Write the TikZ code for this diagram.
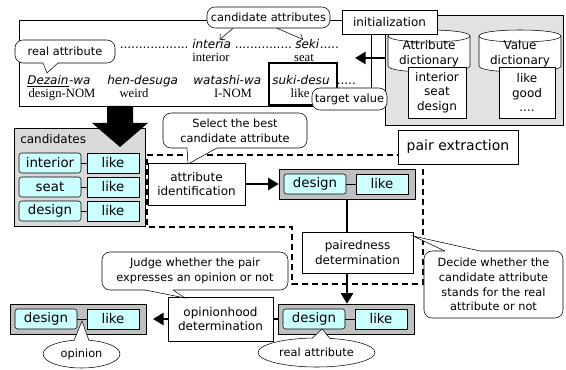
\documentclass[tikz,border=0pt]{standalone}
\usepackage{fontspec}
\setmainfont{DejaVu Sans}
\newfontfamily\glossfont{Liberation Serif}
\usetikzlibrary{arrows.meta,shapes.geometric}
\definecolor{lightcyan}{RGB}{204,255,255}
\definecolor{boxgray}{RGB}{192,192,192}
\definecolor{panelgray}{RGB}{217,217,217}
\definecolor{dictgray}{RGB}{226,226,226}

\begin{document}
\begin{tikzpicture}[x=0.75pt,y=-0.75pt,
	every node/.style={font=\fontsize{9}{11}\selectfont},
	box/.style={draw, fill=white, align=center, inner sep=1pt},
	note/.style={draw, fill=white, rounded corners=6pt, align=center, inner sep=1pt, font=\fontsize{8.5}{11}\selectfont},
	attr/.style={draw, fill=lightcyan, rounded corners=2pt, minimum width=46.5pt, minimum height=15pt, inner sep=0pt, font=\fontsize{10}{12}\selectfont},
	val/.style={draw, fill=lightcyan, minimum width=39pt, minimum height=15pt, inner sep=0pt, font=\fontsize{10}{12}\selectfont},
	pairbox/.style={draw, fill=boxgray, minimum width=102pt, minimum height=22.5pt, inner sep=0pt},
	bigarrow/.style={line width=2pt, -{Triangle[length=8pt,width=9pt]}},
	word/.style={anchor=base west, inner sep=0pt, font=\fontsize{9}{11}\selectfont\itshape},
	gloss/.style={anchor=base, inner sep=0pt, font=\fontsize{9.5}{11}\glossfont},
	]
	\useasboundingbox (0,0) rectangle (566,370);

	% sentence frame
	\node[draw, minimum width=264pt, minimum height=64.5pt, inner sep=0pt] (sentence) at (195,63) {};

	% dictionaries
	\node[draw, fill=dictgray, minimum width=133.5pt, minimum height=82.5pt, inner sep=0pt] (dicts) at (474,70) {};
	\draw[fill=white] (388,36) -- (388,66) .. controls (388,74) and (470,74) .. (470,66) -- (470,36) .. controls (470,28) and (388,28) .. cycle;
	\draw (388,36) .. controls (388,44) and (470,44) .. (470,36);
	\node[align=center] (attrdict) at (429,54) {Attribute\\dictionary};
	\draw[fill=white] (479,36) -- (479,66) .. controls (479,74) and (561,74) .. (561,66) -- (561,36) .. controls (561,28) and (479,28) .. cycle;
	\draw (479,36) .. controls (479,44) and (561,44) .. (561,36);
	\node[align=center] (valdict) at (520,54) {Value\\dictionary};
	\node[box, minimum width=43.5pt, minimum height=38.25pt] (attrlist) at (437,92.5) {interior\\seat\\design};
	\node[box, minimum width=42pt, minimum height=38.25pt] (vallist) at (527,92.5) {like\\good\\....};
	\coordinate (lookup) at (355,58);
	\draw[bigarrow] (dicts.west |- lookup) -- (lookup);

	% target value
	\draw[line width=1.6pt] (269,63) rectangle (337,105);

	% sentence
	\node[word] (dots1) at (120,49) {..................};
	\node[word] (interia) at (192,49) {interia};
	\node[word] (dots2) at (235,49) {...............};
	\node[word] (seki) at (295,49) {seki};
	\node[word] (dots3) at (320,49) {.....};
	\node[gloss] (ginteria) at (211,62) {interior};
	\node[gloss] (gseki) at (304,62) {seat};
	\node[word] (dezain) at (27,85) {Dezain};
	\node[word] (wa) at (dezain.base east) {-wa};
	\draw ([yshift=-1.2pt]dezain.base west) -- ([yshift=-1.2pt]dezain.base east);
	\node[word] (hen) at (107,85) {hen-desuga};
	\node[word] (watashi) at (193,85) {watashi-wa};
	\node[word] (suki) at (272,85) {suki-desu};
	\node[word] (dots4) at (337,85) {.....};
	\node[gloss] (gdezain) at (62,98) {design-NOM};
	\node[gloss] (ghen) at (134,98) {weird};
	\node[gloss] (gwatashi) at (233,98) {I-NOM};
	\node[gloss] (gsuki) at (300,98) {like};

	% labels on the sentence
	\node[note, minimum width=92.25pt, minimum height=15.75pt] (candattr) at (268.5,17.5) {candidate attributes};
	\draw[-{Straight Barb[length=3pt]}] ([xshift=-26.6pt]candattr.south) -- ([xshift=6pt]interia.north);
	\draw[-{Straight Barb[length=3pt]}] ([xshift=6.4pt]candattr.south) -- ([xshift=-3pt]seki.north);
	\node[box, minimum width=71.25pt, minimum height=18pt] (init) at (389.5,22) {initialization};
	\node[note, minimum width=56.25pt, minimum height=16.5pt] (target) at (349.5,99) {target value};
	\node[note, minimum width=75pt, minimum height=17.25pt] (realtop) at (65,51.5) {real attribute};
	\fill[white] (43,61) -- (43,63.5) -- (47,73) -- (58,63.5) -- (58,61) -- cycle;
	\draw (43,63) -- (47,73) -- (58,63);

	% candidates
	\node[draw, fill=panelgray, minimum width=98.25pt, minimum height=73.5pt, inner sep=0pt] (cands) at (79.5,177) {};
	\node[anchor=west, inner sep=0pt] (candtitle) at (20,139) {candidates};
	\node[attr] (c1) at (50,163) {interior};
	\node[val] (v1) at (113,163) {like};
	\draw (c1) -- (v1);
	\node[attr] (c2) at (50,187) {seat};
	\node[val] (v2) at (113,187) {like};
	\draw (c2) -- (v2);
	\node[attr] (c3) at (50,211) {design};
	\node[val] (v3) at (113,211) {like};
	\draw (c3) -- (v3);
	\fill (107,106) -- (133,106) -- (133,123) -- (148,123) -- (120,147) -- (92,123) -- (107,123) -- cycle;

	% pair extraction
	\draw[line width=1pt, dash pattern=on 4.5pt off 3pt] (147,155) -- (423,155) -- (423,284) -- (292,284) -- (292,227) -- (147,227) -- cycle;
	\node[box, minimum width=90pt, minimum height=25.5pt, font=\fontsize{10.5}{12}\selectfont] (extract) at (458,147) {pair extraction};
	\node[box, minimum width=72.75pt, minimum height=31.5pt] (attrid) at (196.5,184) {attribute\\identification};
	\node[pairbox] (pair1) at (347,184) {};
	\node[attr] (p1a) at (315,184) {design};
	\node[val] (p1v) at (382,184) {like};
	\draw (p1a) -- (p1v);
	\draw[bigarrow] (attrid) -- (pair1);
	\node[box, minimum width=83.25pt, minimum height=30.75pt] (paired) at (357.5,252.5) {pairedness\\determination};
	\draw[line width=2pt] (pair1.south) -- (pair1.south |- paired.north);
	\node[pairbox] (pair2) at (346,319) {};
	\node[attr] (p2a) at (314,319) {design};
	\node[val] (p2v) at (381,319) {like};
	\draw (p2a) -- (p2v);
	\draw[bigarrow] (pair1.south |- paired.south) -- (pair1.south |- pair2.north);

	% opinionhood
	\node[box, minimum width=78.75pt, minimum height=33pt] (opinion) at (220.5,319) {opinionhood\\determination};
	\draw[line width=2pt] (pair2) -- (opinion);
	\node[pairbox] (pair3) at (78,319) {};
	\node[attr] (p3a) at (46,319) {design};
	\node[val] (p3v) at (113,319) {like};
	\draw (p3a) -- (p3v);
	\draw[bigarrow, shorten >=5pt] (opinion) -- (pair3);

	% callouts
	\node[note, minimum width=108pt, minimum height=26.25pt] (select) at (235,130.5) {Select the best\\candidate attribute};
	\fill[white] (187,146) -- (187,148.5) -- (188,164) -- (217,148.5) -- (217,146) -- cycle;
	\draw (187,148) -- (188,164) -- (217,148);
	\node[note, minimum width=139.5pt, minimum height=28.5pt] (judge) at (195,271) {Judge whether the pair\\expresses an opinion or not};
	\fill[white] (145,288) -- (145,290.5) -- (185,298) -- (173,290.5) -- (173,288) -- cycle;
	\draw (145,290) -- (185,298) -- (173,290);
	\node[note, minimum width=104.25pt, minimum height=50.25pt] (decide) at (493.5,284.5) {Decide whether the\\candidate attribute\\stands for the real\\attribute or not};
	\fill[white] (445,253) -- (445,250.5) -- (413,236) -- (480,250.5) -- (480,253) -- cycle;
	\draw (445,251) -- (413,236) -- (480,251);
	\node[ellipse, draw, fill=white, minimum width=57.75pt, minimum height=21pt, inner sep=0pt, font=\fontsize{8.5}{11}\selectfont] (opnote) at (81.5,354) {opinion};
	\fill[white] (74,342.5) -- (74,340.6) -- (82,321) -- (89,340.6) -- (89,342.5) -- cycle;
	\draw (74,340.6) -- (82,321) -- (89,340.6);
	\node[ellipse, draw, fill=white, minimum width=87.75pt, minimum height=21.75pt, inner sep=0pt, font=\fontsize{8.5}{11}\selectfont] (realnote) at (316.5,352.5) {real attribute};
	\fill[white] (312,340) -- (312,338.3) -- (322,329) -- (330,338.6) -- (330,340) -- cycle;
	\draw (312,338.3) -- (322,329) -- (330,338.6);
\end{tikzpicture}
\end{document}
